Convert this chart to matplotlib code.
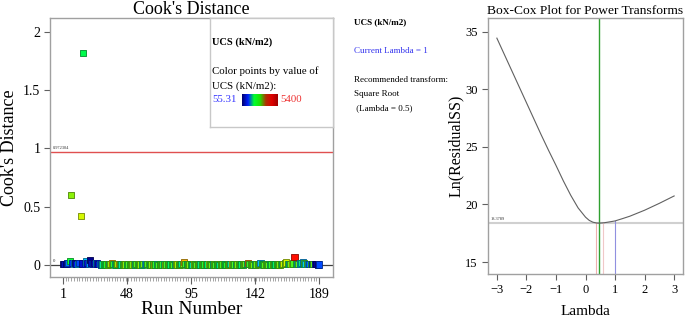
import matplotlib
matplotlib.use("Agg")
import matplotlib.pyplot as plt
import numpy as np
from matplotlib.colors import LinearSegmentedColormap, Normalize

plt.rcParams['font.family'] = ['Liberation Serif', 'DejaVu Serif']

# ---------------- data ----------------
runs = list(range(1, 190))
cooks = [
    0.008, 0.006, 0.010, 0.012, 0.020, 0.035, 0.600, 0.015, 0.012, 0.018,
    0.010, 0.008, 0.020, 0.420, 0.012, 1.820, 0.010, 0.030, 0.015, 0.012,
    0.045, 0.020, 0.010, 0.018, 0.015, 0.012, 0.008, 0.006, 0.005, 0.004,
    0.004, 0.003, 0.005, 0.004, 0.006, 0.008, 0.015, 0.006, 0.004, 0.005,
    0.006, 0.010, 0.005, 0.004, 0.003, 0.004, 0.005, 0.003, 0.004, 0.003,
    0.004, 0.005, 0.003, 0.004, 0.006, 0.004, 0.003, 0.005, 0.004, 0.006,
    0.007, 0.010, 0.006, 0.004, 0.003, 0.005, 0.004, 0.003, 0.004, 0.005,
    0.003, 0.004, 0.003, 0.005, 0.004, 0.003, 0.004, 0.005, 0.003, 0.004,
    0.005, 0.003, 0.004, 0.006, 0.004, 0.003, 0.005, 0.006, 0.008, 0.028,
    0.006, 0.004, 0.003, 0.005, 0.004, 0.003, 0.004, 0.005, 0.003, 0.004,
    0.005, 0.004, 0.003, 0.004, 0.005, 0.006, 0.004, 0.008, 0.004, 0.003,
    0.004, 0.005, 0.003, 0.004, 0.005, 0.003, 0.004, 0.005, 0.006, 0.004,
    0.003, 0.005, 0.004, 0.006, 0.010, 0.005, 0.004, 0.003, 0.004, 0.005,
    0.003, 0.004, 0.005, 0.006, 0.008, 0.010, 0.020, 0.008, 0.005, 0.004,
    0.003, 0.005, 0.004, 0.006, 0.010, 0.015, 0.006, 0.004, 0.003, 0.005,
    0.004, 0.003, 0.004, 0.005, 0.003, 0.004, 0.005, 0.006, 0.004, 0.005,
    0.006, 0.008, 0.010, 0.012, 0.022, 0.010, 0.008, 0.006, 0.010, 0.012,
    0.070, 0.010, 0.008, 0.006, 0.012, 0.015, 0.022, 0.012, 0.010, 0.008,
    0.006, 0.010, 0.008, 0.006, 0.008, 0.006, 0.006, 0.005, 0.004,
]
ucs = [
    150, 400, 300, 600, 1200, 2400, 3000, 900, 1400, 250,
    700, 1600, 1000, 3530, 500, 2300, 800, 1500, 600, 1300,
    60, 400, 900, 300, 1700, 800, 500, 1400, 1000, 2000,
    2600, 2200, 2500, 2900, 2100, 3000, 4300, 2600, 1900, 2400,
    3100, 4200, 2700, 2000, 2600, 2800, 3000, 2200, 2700, 2600,
    2800, 2900, 3100, 2000, 2700, 2800, 2500, 3000, 2100, 2900,
    1800, 1500, 2700, 2800, 2200, 2900, 2700, 3400, 2600, 2000,
    2700, 2500, 2900, 2600, 2100, 3300, 2700, 2600, 2900, 2200,
    2600, 2700, 2000, 2900, 3200, 2600, 2800, 2100, 2900, 4300,
    2700, 2200, 2800, 2900, 2500, 2000, 3300, 2600, 2800, 2700,
    2900, 2100, 2700, 2800, 2500, 2900, 2200, 3600, 2700, 2800,
    2000, 2900, 2700, 2500, 2800, 2100, 2900, 2700, 2800, 2200,
    2500, 2700, 2900, 2000, 4000, 2800, 2700, 2100, 2900, 2800,
    2700, 2200, 2600, 2900, 2800, 2000, 4600, 2600, 2800, 2700,
    2900, 2100, 2800, 2700, 2900, 1500, 2600, 2200, 2700, 2900,
    2600, 2800, 2000, 2500, 2900, 2600, 2200, 2700, 2600, 2900,
    2700, 2100, 3400, 2800, 3500, 2600, 1800, 2800, 3600, 2700,
    5300, 2600, 1700, 2800, 1500, 2000, 1400, 2700, 1700, 2900,
    1500, 1200, 2600, 900, 2800, 600, 100, 300, 1000,
]
cooks_threshold = 0.972304
ucs_min, ucs_max = 55.31, 5400
run_ticks = [1, 48, 95, 142, 189]

bc_lambda = [-3.0, -2.75, -2.5, -2.25, -2.0, -1.75, -1.5, -1.25, -1.0, -0.75,
             -0.5, -0.25, 0.0, 0.125, 0.25, 0.375, 0.46, 0.625, 0.75, 1.0,
             1.25, 1.5, 1.75, 2.0, 2.25, 2.5, 2.75, 3.0]
bc_lnss = [34.45, 33.05, 31.65, 30.25, 28.85, 27.45, 26.05, 24.7, 23.4, 22.05,
           20.8, 19.7, 18.9, 18.62, 18.46, 18.39, 18.379, 18.41, 18.46, 18.57,
           18.77, 18.98, 19.24, 19.5, 19.8, 20.1, 20.42, 20.74]
bc_threshold = 18.3789
best_lambda = 0.46
ci_low, ci_high = 0.345, 0.59
current_lambda = 1.0
current_lnss = 18.57

# ---------------- figure ----------------
fig = plt.figure(figsize=(6.85, 3.22), dpi=100)

cmap = LinearSegmentedColormap.from_list(
    "ucs", ["#000090", "#0020ff", "#00d0ff", "#00ff40", "#a0f000",
            "#ffff00", "#ff8000", "#ff0000"])
bar_cmap = LinearSegmentedColormap.from_list(
    "ucsbar", ["#000070", "#0020ff", "#00ff30", "#20e000", "#b03000",
               "#e00000", "#a00000"])
norm = Normalize(ucs_min, ucs_max)

ax = fig.add_axes([50/685, 45/322, 283/685, 259/322])
ax.set_xlim(-8.5, 199.3)
ax.set_ylim(-0.103, 2.12)
face = cmap(norm(np.array(ucs)))
edge = face.copy()
edge[:, :3] *= 0.55
ax.axhline(0, color="#404040", lw=0.9, zorder=1)
ax.axhline(cooks_threshold, color="#e05050", lw=1.0, zorder=1)
ax.scatter(runs, cooks, marker="s", s=20, c=face, edgecolors=edge,
           linewidths=0.6, zorder=3)
ax.text(-6.5, cooks_threshold + 0.015, "0.972304", fontsize=3.2,
        color="#303030", va="bottom", ha="left")
ax.text(-6.5, 0.015, "0", fontsize=3.5, color="#303030", va="bottom", ha="left")

ax.set_xticks(run_ticks)
ax.set_xticks(list(range(1, 190, 2)), minor=True)
ax.set_yticks([0, 0.5, 1, 1.5, 2])
ax.set_yticklabels(["0", "0.5", "1", "1.5", "2"])
ax.tick_params(axis="both", which="major", labelsize=10, length=4,
               color="#606060", width=0.8, pad=3)
ax.tick_params(axis="x", which="minor", length=3, color="#808080", width=0.5)
ax.tick_params(axis="x", which="major", length=5, pad=3)
for s in ax.spines.values():
    s.set_color("#a0a0a0")
    s.set_linewidth(1.0)
ax.set_title("Cook's Distance", fontsize=13, pad=2)
ax.set_xlabel("Run Number", fontsize=14, labelpad=0)
ax.set_ylabel("Cook's Distance", fontsize=13)
ax.yaxis.set_label_coords(-0.113, 0.5)

# legend box inside the Cook's plot
lg = fig.add_axes([210/685, (322-127)/322, 123/685, 109/322])
lg.set_xlim(0, 123)
lg.set_ylim(109, 0)
lg.set_xticks([])
lg.set_yticks([])
for s in lg.spines.values():
    s.set_color("#c8c8c8")
    s.set_linewidth(1.0)
lg.patch.set_facecolor("white")
lg.text(2, 24, "UCS (kN/m2)", fontsize=7.5, fontweight="bold", va="center")
lg.text(2, 53, "Color points by value of", fontsize=7.8, va="center")
lg.text(2, 68, "UCS (kN/m2):", fontsize=7.8, va="center")
lg.text(2, 82, "55.31", fontsize=7.8, color="#3333ff", va="center")
lg.text(70, 82, "5400", fontsize=7.8, color="#ee3333", va="center")
grad = np.linspace(0, 1, 100).reshape(1, -1)
lg.imshow(grad, cmap=bar_cmap, aspect="auto", extent=(32, 68, 88, 76))

# middle text panel
fig.text(354/685, 1 - 22/322, "UCS (kN/m2)", fontsize=6.5, fontweight="bold",
         va="center")
fig.text(354/685, 1 - 51/322, "Current Lambda = 1", fontsize=6.5,
         color="#3333ee", va="center")
fig.text(354/685, 1 - 80/322, "Recommended transform:", fontsize=6.5, va="center")
fig.text(354/685, 1 - 94/322, "Square Root", fontsize=6.5, va="center")
fig.text(354/685, 1 - 108/322, " (Lambda = 0.5)", fontsize=6.5, va="center")

# Box-Cox plot
bx = fig.add_axes([488/685, 48/322, 195/685, 256/322])
bx.set_xlim(-3.3, 3.3)
bx.set_ylim(13.96, 36.2)
bx.axhline(bc_threshold, color="#d0d0d0", lw=1.5, zorder=1)
bx.plot([ci_low, ci_low], [13.96, bc_threshold], color="#f0b0b0", lw=0.8)
bx.plot([ci_high, ci_high], [13.96, bc_threshold], color="#f0c8c8", lw=0.8)
bx.plot([current_lambda, current_lambda], [13.96, current_lnss],
        color="#9090e0", lw=0.8)
bx.axvline(best_lambda, color="#30a030", lw=1.0)
bx.plot(bc_lambda, bc_lnss, color="#606060", lw=0.8)
bx.text(-3.22, bc_threshold + 0.15, "18.3789", fontsize=3.2, color="#303030",
        va="bottom")
bx.set_xticks([-3, -2, -1, 0, 1, 2, 3])
bx.set_yticks([15, 20, 25, 30, 35])
bx.tick_params(axis="both", labelsize=9, length=4, color="#606060", width=0.8)
for s in bx.spines.values():
    s.set_color("#a0a0a0")
    s.set_linewidth(1.0)
bx.set_title("Box-Cox Plot for Power Transforms", fontsize=9.7, pad=3)
bx.set_xlabel("Lambda", fontsize=11, labelpad=6)
bx.set_ylabel("Ln(ResidualSS)", fontsize=11.5)
bx.yaxis.set_label_coords(-0.123, 0.5)

fig.savefig("out.png", dpi=100)
